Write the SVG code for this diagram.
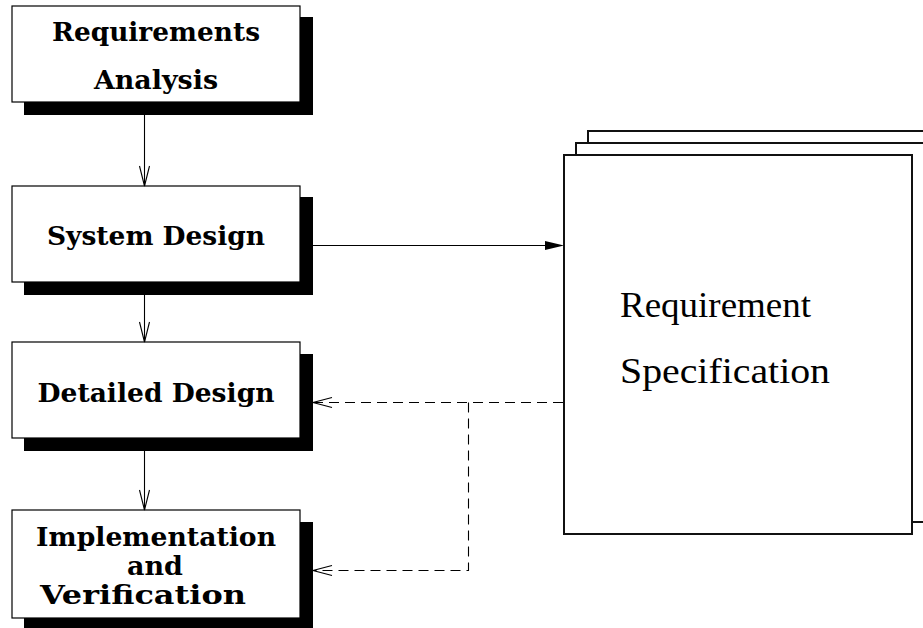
<svg xmlns="http://www.w3.org/2000/svg" width="923" height="628" viewBox="0 0 923 628">
  <style>
    .box { fill: #fff; stroke: #000; stroke-width: 1.2; }
    .shadow { fill: #000; }
    .label { font-family: "DejaVu Serif", "Liberation Serif", serif; font-weight: bold; font-size: 26px; fill: #000; text-anchor: middle; }
    .page { fill: #fff; stroke: #111; stroke-width: 2; }
    .doc { font-family: "Liberation Serif", "Times New Roman", serif; font-size: 35px; fill: #000; }
    .flow { fill: none; stroke: #000; stroke-width: 1.1; }
    .dash { fill: none; stroke: #000; stroke-width: 1.1; stroke-dasharray: 10 6; }
  </style>

  <!-- document stack -->
  <g id="spec">
    <rect class="page" x="588" y="131" width="340" height="380"/>
    <rect class="page" x="576" y="143" width="350" height="379"/>
    <rect class="page" x="564" y="155" width="348" height="379"/>
    <text class="doc" x="620" y="317" textLength="191" lengthAdjust="spacingAndGlyphs">Requirement</text>
    <text class="doc" x="620" y="383" textLength="210" lengthAdjust="spacingAndGlyphs">Specification</text>
  </g>

  <g id="requirements-analysis">
    <rect class="shadow" x="24" y="17" width="289" height="98"/>
    <rect class="box" x="12" y="6" width="288" height="96"/>
    <text class="label" x="156" y="41" textLength="208" lengthAdjust="spacingAndGlyphs">Requirements</text>
    <text class="label" x="156" y="89" textLength="124" lengthAdjust="spacingAndGlyphs">Analysis</text>
  </g>

  <g id="system-design">
    <rect class="shadow" x="24" y="197" width="289" height="98"/>
    <rect class="box" x="12" y="186" width="288" height="96"/>
    <text class="label" x="156" y="245" textLength="218" lengthAdjust="spacingAndGlyphs">System Design</text>
  </g>

  <g id="detailed-design">
    <rect class="shadow" x="24" y="354" width="289" height="97"/>
    <rect class="box" x="12" y="342" width="288" height="96"/>
    <text class="label" x="156" y="402" textLength="237" lengthAdjust="spacingAndGlyphs">Detailed Design</text>
  </g>

  <g id="implementation">
    <rect class="shadow" x="24" y="522" width="289" height="110"/>
    <rect class="box" x="12" y="510" width="288" height="108"/>
    <text class="label" x="156" y="546" textLength="240" lengthAdjust="spacingAndGlyphs">Implementation</text>
    <text class="label" x="155" y="575" textLength="56" lengthAdjust="spacingAndGlyphs">and</text>
    <text class="label" x="143" y="604" textLength="206" lengthAdjust="spacingAndGlyphs">Verification</text>
  </g>

  <g id="connectors">
    <!-- phase to phase -->
    <line class="flow" x1="144.5" y1="115" x2="144.5" y2="186"/>
    <polyline class="flow" points="139.5,166 144.5,186 149.5,166"/>
    <line class="flow" x1="144.5" y1="295" x2="144.5" y2="342"/>
    <polyline class="flow" points="139.5,322 144.5,342 149.5,322"/>
    <line class="flow" x1="144.5" y1="451" x2="144.5" y2="510"/>
    <polyline class="flow" points="139.5,490 144.5,510 149.5,490"/>

    <!-- system design produces the specification -->
    <line class="flow" x1="313" y1="245.5" x2="548" y2="245.5"/>
    <polygon points="545,241 564,245.5 545,250" fill="#000"/>

    <!-- specification feeds later phases -->
    <polyline class="dash" points="563,402.5 314,402.5"/>
    <polyline class="dash" points="468.5,402.5 468.5,570.5 314,570.5"/>
    <polyline class="flow" points="332,397.5 313,402.5 332,407.5"/>
    <polyline class="flow" points="332,565.5 313,570.5 332,575.5"/>
  </g>
</svg>
